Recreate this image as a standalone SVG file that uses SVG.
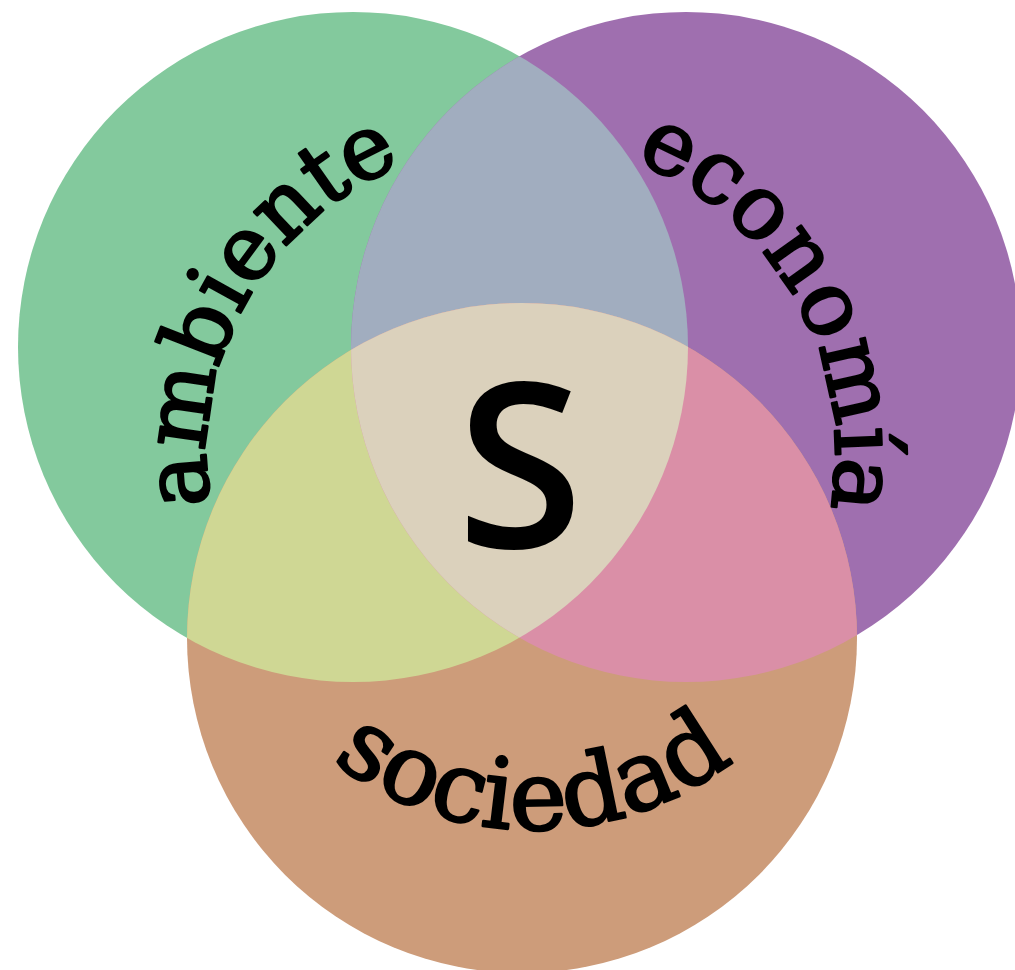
<svg xmlns="http://www.w3.org/2000/svg" width="1015" height="970" viewBox="0 0 1015 970">
<style>
.lbl{font-family:"DejaVu Serif","Liberation Serif",serif;font-size:89px;fill:#000;stroke:#000;stroke-width:2.5px;stroke-linejoin:round}
.big{font-family:"Open Sans","Noto Sans",sans-serif;font-weight:600;font-size:230px;fill:#000}
</style>
<defs>
<clipPath id="cg"><circle cx="353" cy="347" r="335"/></clipPath>
<clipPath id="cp"><circle cx="686" cy="347" r="335"/></clipPath>
<path id="pa" d="M 342.7 713.3 A 313 313 0 0 1 648.8 170.0"/>
<path id="pe" d="M 390.2 170.0 A 313 313 0 0 1 697.3 713.3"/>
<path id="ps" d="M 212.9 560.9 A 325 325 0 0 0 853.1 560.9"/>
</defs>
<rect width="1015" height="970" fill="#fff"/>
<g id="ambiente-circle"><circle cx="353" cy="347" r="335" fill="#83c99d"/></g>
<g id="economia-circle"><circle cx="686" cy="347" r="335" fill="#9f6faf"/></g>
<g id="sociedad-circle"><circle cx="522" cy="638" r="335" fill="#cd9c7a"/></g>
<g id="overlaps">
<g clip-path="url(#cg)"><circle cx="686" cy="347" r="335" fill="#a1adbf"/><circle cx="522" cy="638" r="335" fill="#cfd794"/></g>
<g clip-path="url(#cp)"><circle cx="522" cy="638" r="335" fill="#da8fa7"/></g>
<g clip-path="url(#cg)"><g clip-path="url(#cp)"><circle cx="522" cy="638" r="335" fill="#dbd1bc"/></g></g>
</g>
<g id="labels">
<text class="lbl"><textPath href="#pa" startOffset="50%" text-anchor="middle">ambiente</textPath></text>
<text class="lbl"><textPath href="#pe" startOffset="50%" text-anchor="middle">economía</textPath></text>
<text class="lbl" style="font-size:97px"><textPath href="#ps" startOffset="50%" text-anchor="middle">sociedad</textPath></text>
<text class="big" x="520" y="548" text-anchor="middle">S</text>
</g>
</svg>
